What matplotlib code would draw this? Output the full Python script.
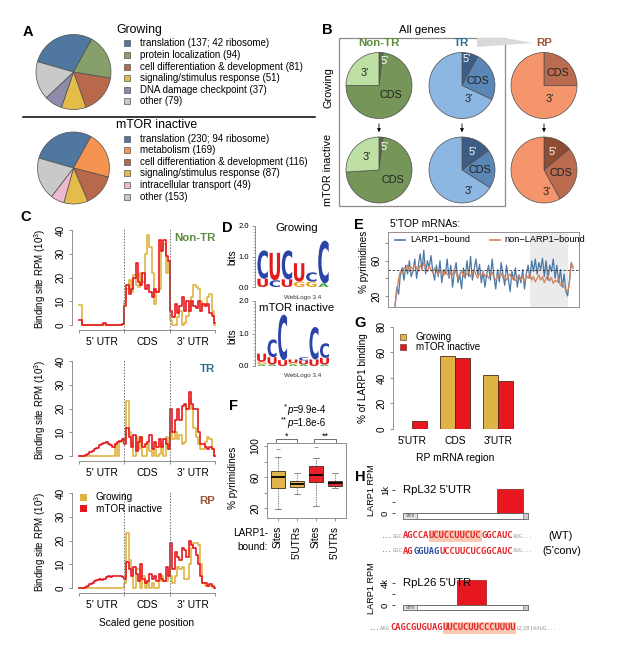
import numpy as np
import matplotlib
matplotlib.use('Agg')
import matplotlib.pyplot as plt
import matplotlib.transforms as mtransforms
from matplotlib.patches import Rectangle, Polygon, PathPatch
from matplotlib.textpath import TextPath
from matplotlib.font_manager import FontProperties
from matplotlib.ticker import MultipleLocator

W, H = 617, 655

# ---------------- data ----------------
# A: GO terms of LARP1 targets
grow_terms = ['translation', 'protein localization', 'cell differentiation & development',
              'signaling/stimulus response', 'DNA damage checkpoint', 'other']
grow_counts = [137, 94, 81, 51, 37, 79]
grow_ribosome = 42
mtor_terms = ['translation', 'metabolism', 'cell differentiation & development',
              'signaling/stimulus response', 'intracellular transport', 'other']
mtor_counts = [230, 169, 116, 87, 49, 153]
mtor_ribosome = 94

# B: share of binding sites per region (5', CDS, 3')
b_groups = ['Non-TR', 'TR', 'RP']
b_regions = ["5'", 'CDS', "3'"]
b_growing = [[2, 73, 25], [8, 24, 68], [0, 25, 75]]
b_mtor = [[2, 72, 26], [15, 19, 66], [14, 28, 58]]

# C: binding site RPM (10^3) along scaled gene position, 20 bins per region
c_regions = ["5' UTR", 'CDS', "3' UTR"]
nontr_grow = [8.4, 8.4, 0, 0, 0, 0, 0, 0, 0, 0, 0, 0, 0, 0, 0, 0, 0, 0, 0, 0.3,
              10, 15, 19, 14, 21, 17, 16, 22, 18, 30, 38, 33, 22, 9, 14, 15, 32, 34, 22, 27,
              2, 0, 0, 3.5, 6, 0, 1, 4, 8, 12, 17, 16, 15, 10, 8, 9, 12, 13, 6, 0]
nontr_mtor = [2, 2, 0, 0, 0, 0, 0, 0, 0, 0, 0, 1, 0, 0, 0, 0, 0, 0, 0, 0.5,
              8, 17, 13, 15, 20, 26, 18, 17, 22, 15, 17, 14, 12, 15, 14, 36, 31, 36, 29, 27,
              6, 3.5, 9, 5, 8, 12, 6, 10, 6, 10, 8, 7, 10, 6, 9, 8, 9, 5, 4, 1]
tr_grow = [0, 0, 0, 0, 0, 0, 0, 0, 0, 0, 0, 0, 0, 0, 0, 0, 5, 0, 6, 7,
           7, 23, 10, 5, 0, 8, 3, 8, 0, 0, 5, 2, 0, 3, 0, 1, 5, 0, 8, 3,
           10, 7, 10, 7, 9, 5, 6, 20, 24, 20, 12, 8, 5, 3, 3, 6, 8, 7, 3, 0]
tr_mtor = [0, 0, 0, 0.5, 1, 1.5, 2, 3, 3.5, 4.5, 5, 5.5, 6, 5, 4.5, 4, 5, 6, 6.5, 7,
           5, 12, 8, 4, 9, 2, 6, 8, 4, 5, 6, 9, 3, 6, 4, 7, 4, 7, 5, 3,
           20, 10, 15, 20, 15, 21, 22, 20, 27, 22, 20, 20, 10, 5, 5, 4, 3, 4, 3, 0]
rp_grow = [0, 0, 0, 0, 0, 0, 0, 0, 0, 0, 0, 0, 0, 0, 0, 0, 0, 0, 0, 0,
           2, 23, 12, 8, 0, 8, 8, 0, 5, 0, 3, 0, 2, 0, 0, 3, 5, 3, 3, 7,
           5, 2, 5, 9, 8, 9, 4, 4, 10, 17, 19, 19, 18, 10, 2, 1, 1, 1, 0.5, 0]
rp_mtor = [0, 0, 0, 0.5, 1, 1.5, 2, 3, 3.5, 4, 3.5, 4, 4.5, 5, 4.5, 5, 5, 5, 5, 4.5,
           4, 11, 8, 5, 9, 6, 3, 10, 4, 2, 3, 6, 4, 5, 3, 6, 4, 3, 9, 5,
           19, 8, 15, 13, 12, 17, 16, 13, 20, 18, 17, 14, 10, 5, 2, 2, 1, 1.5, 1, 0]

# D: sequence logos, stacks bottom -> top (letter, bits)
logo_grow = [[('U', 0.27), ('C', 0.93)],
             [('C', 0.22), ('U', 0.90)],
             [('U', 0.25), ('C', 0.95)],
             [('G', 0.18), ('U', 0.60)],
             [('G', 0.18), ('C', 0.30)],
             [('A', 0.12), ('C', 1.40)]]
logo_mtor = [[('A', 0.05), ('G', 0.08), ('U', 0.25)],
             [('A', 0.05), ('U', 0.22), ('C', 0.55)],
             [('U', 0.18), ('C', 1.40)],
             [('A', 0.05), ('G', 0.05), ('U', 0.10)],
             [('A', 0.05), ('U', 0.12), ('C', 0.10)],
             [('U', 0.20), ('C', 1.00)],
             [('A', 0.05), ('U', 0.20), ('C', 0.45)]]

# E: % pyrimidines along 5'TOP mRNAs
e_bound = [8, 30, 22, 45, 52, 38, 55, 45, 60, 42,
           48, 62, 40, 55, 68, 50, 72, 45, 60, 52,
           66, 48, 38, 55, 42, 60, 35, 50, 45, 62,
           40, 55, 30, 48, 58, 35, 45, 28, 52, 40,
           60, 42, 65, 38, 50, 62, 44, 56, 35, 48,
           30, 45, 55, 38, 62, 42, 28, 50, 36, 58,
           45, 32, 55, 40, 25, 48, 38, 52, 30, 44,
           35, 50, 28, 45, 55, 40, 60, 48, 62, 45,
           58, 50, 63, 42, 60, 38, 55, 48, 62, 40,
           55, 35, 50, 30, 45, 25, 20, 38, 58, 52]
e_unbound = [10, 25, 40, 48, 45, 52, 50, 55, 48, 53,
             50, 56, 52, 48, 55, 50, 58, 52, 48, 54,
             50, 46, 52, 48, 44, 50, 47, 43, 49, 45,
             42, 48, 44, 50, 46, 40, 45, 48, 42, 46,
             44, 48, 42, 46, 50, 44, 40, 46, 43, 47,
             42, 45, 40, 44, 47, 41, 38, 44, 42, 46,
             40, 43, 38, 42, 45, 39, 43, 37, 41, 44,
             38, 42, 36, 44, 40, 46, 38, 42, 36, 40,
             44, 38, 42, 35, 40, 44, 37, 41, 34, 38,
             36, 40, 32, 35, 30, 27, 25, 35, 58, 52]
e_shade = (75, 96)
e_ref = 50

# F: % pyrimidines, box statistics
f_labels = ['Sites', "5'UTRs", 'Sites', "5'UTRs"]
f_med = [60.4, 50.6, 62.6, 51.9]
f_q1 = [45.4, 46.7, 54.0, 48.4]
f_q3 = [68.1, 54.8, 74.2, 55.2]
f_lo = [18.7, 38.0, 22.6, 45.4]
f_hi = [85.4, 65.6, 84.0, 65.6]
f_out = [[95.7], [], [98.3], []]
f_pvals = [('*', '9.9e-4'), ('**', '1.8e-6')]

# G: % of LARP1 binding in RP mRNA regions
g_regions = ["5'UTR", 'CDS', "3'UTR"]
g_growing = [0, 57.6, 42.7]
g_mtor = [6.3, 55.5, 38.0]

# H: LARP1 RPM on 5'UTRs (position in % of UTR)
l32_start, l32_end, l32_rpm = 75, 96, 1050
l26_start, l26_end, l26_rpm = 43, 66, 4500

# ---------------- style ----------------
plt.rcParams.update({
    'font.family': 'Liberation Sans',
    'font.size': 7,
    'mathtext.fontset': 'custom',
    'mathtext.rm': 'Liberation Sans',
    'mathtext.it': 'Liberation Sans:italic',
    'axes.linewidth': 0.6,
    'axes.edgecolor': '#808080',
    'xtick.color': '#808080', 'ytick.color': '#808080',
    'xtick.labelcolor': 'black', 'ytick.labelcolor': 'black',
    'xtick.major.size': 2.5, 'ytick.major.size': 2.5,
    'xtick.major.width': 0.6, 'ytick.major.width': 0.6,
    'xtick.major.pad': 2, 'ytick.major.pad': 2,
})

YEL = '#dfb444'
RED = '#e8171f'
term_colors = {'translation': '#4f77a0', 'protein localization': '#87a06b',
               'cell differentiation & development': '#b9694b',
               'signaling/stimulus response': '#e4bc4a', 'DNA damage checkpoint': '#8e8aa9',
               'other': '#c9c9c9', 'metabolism': '#f59450', 'intracellular transport': '#eeb8d0'}
b_colors = [['#556b45', '#769659', '#bfe0a5'],
            ['#3d5d85', '#5b87b7', '#8cb7e3'],
            ['#8e4c33', '#bb6c50', '#f5956b']]
b_title_colors = ['#5e8c3a', '#2f6f8f', '#a0523c']

fig = plt.figure(figsize=(W / 100, H / 100), dpi=100)


def box(l, t, r, b):
    return [l / W, 1 - b / H, (r - l) / W, (b - t) / H]


def pie_at(cx, cy, r, vals, colors, start):
    m = 1.04
    ax = fig.add_axes(box(cx - r * m, cy - r * m, cx + r * m, cy + r * m))
    ax.pie(vals, colors=colors, startangle=start, counterclock=False,
           wedgeprops=dict(ec='#4d4d4d', lw=0.5))
    ax.set_xlim(-m, m)
    ax.set_ylim(-m, m)
    return ax


# ---------------- A ----------------
pie_at(73.5, 72, 37.5, grow_counts, [term_colors[t] for t in grow_terms], 164)
pie_at(73.5, 168, 36, mtor_counts, [term_colors[t] for t in mtor_terms], 164)

# ---------------- B ----------------
b_cx = [379, 462, 544]
for i, g in enumerate(b_groups):
    pie_at(b_cx[i], 85.5, 33, b_growing[i], b_colors[i], 90)
    pie_at(b_cx[i], 170, 33, b_mtor[i], b_colors[i], 90)

# ---------------- C ----------------
c_tops = [228, 359, 491]
c_sets = [('Non-TR', b_title_colors[0], nontr_grow, nontr_mtor),
          ('TR', b_title_colors[1], tr_grow, tr_mtor),
          ('RP', b_title_colors[2], rp_grow, rp_mtor)]
for top, (lab, col, gr, mt) in zip(c_tops, c_sets):
    ax = fig.add_axes(box(72, top, 217, top + 102))
    x = np.linspace(0, 3, len(gr))
    ax.plot(x, gr, color=YEL, lw=1.2, drawstyle='steps-mid')
    ax.plot(x, mt, color=RED, lw=1.2, drawstyle='steps-mid')
    ax.set_xlim(-0.155, 3.04)
    ax.set_ylim(-2.1, 40.9)
    for s in ('top', 'right'):
        ax.spines[s].set_visible(False)
    ax.spines['left'].set_bounds(0, 40)
    ax.spines['bottom'].set_bounds(0, 3)
    ax.set_yticks([0, 10, 20, 30, 40])
    ax.tick_params(axis='y', labelrotation=90, labelsize=7.2)
    for t in ax.get_yticklabels():
        t.set_va('center')
    ax.set_xticks([0, 1, 2, 3], [''] * 4)
    ax.set_xticks([0.5, 1.5, 2.5], c_regions, minor=True)
    ax.tick_params(axis='x', which='minor', length=0, pad=5, labelsize=7.4)
    for xv in (1, 2):
        ax.axvline(xv, color='#707070', lw=0.7, ls=(0, (1.5, 1.5)))
    ax.text(3.0, 36.5, lab, color=col, fontsize=8.2, fontweight='bold', ha='right', va='center')

# ---------------- D ----------------
LOGO_FP = FontProperties(family='DejaVu Sans', weight='bold')
letter_colors = {'C': '#2a44a8', 'U': '#e41a1c', 'G': '#f0a020', 'A': '#3aa040'}


def letter(ax, ch, x, y, w, h):
    tp = TextPath((0, 0), ch, size=1, prop=LOGO_FP)
    bb = tp.get_extents()
    tr = mtransforms.Affine2D().translate(-bb.x0, -bb.y0).scale(w / bb.width, h / bb.height).translate(x, y)
    ax.add_patch(PathPatch(tr.transform_path(tp), fc=letter_colors[ch], ec='none', lw=0))


for stacks, (top, bot) in ((logo_grow, (226, 287)), (logo_mtor, (301, 366))):
    ax = fig.add_axes(box(255, top, 331, bot))
    n = len(stacks)
    for i, st in enumerate(stacks):
        y0 = 0
        for ch, h in st:
            letter(ax, ch, i + 0.55, y0, 0.86, h)
            y0 += h
    ax.set_xlim(0.35, n + 0.6)
    ax.set_ylim(0, 2)
    for s in ('top', 'right', 'bottom'):
        ax.spines[s].set_visible(False)
    ax.set_xticks([])
    ax.set_yticks([0, 1, 2], ['0.0', '1.0', '2.0'])
    ax.yaxis.set_minor_locator(MultipleLocator(0.1))
    ax.tick_params(axis='y', which='minor', length=1.2, width=0.4)
    ax.tick_params(axis='y', labelsize=5.5, length=2.5)

# ---------------- E ----------------
ax = fig.add_axes(box(388, 232, 579, 307))
idx = np.arange(len(e_bound))
ax.axvspan(e_shade[0], e_shade[1], color='#ebebeb', lw=0)
ax.plot(idx, e_bound, color='#4a78a6', lw=0.9)
ax.plot(idx, e_unbound, color='#cf8462', lw=0.9)
ax.axhline(e_ref, color='#333333', lw=0.6, ls=(0, (3, 2)))
ax.set_xlim(-3.9, 102.3)
ax.set_ylim(7.5, 92.7)
ax.set_xticks([])
ax.set_yticks([20, 40, 60, 80], ['20', '', '60', ''])
ax.tick_params(axis='y', labelrotation=90, labelsize=7.2)
for t in ax.get_yticklabels():
    t.set_va('center')

# ---------------- F ----------------
ax = fig.add_axes(box(267, 443, 346, 518))
stats = [dict(med=m, q1=a, q3=b, whislo=lo, whishi=hi, fliers=o)
         for m, a, b, lo, hi, o in zip(f_med, f_q1, f_q3, f_lo, f_hi, f_out)]
bp = ax.bxp(stats, positions=[1, 2, 3, 4], widths=0.75, patch_artist=True, capwidths=0.35,
            boxprops=dict(ec='#3a2a1a', lw=0.6),
            medianprops=dict(color='black', lw=1.3),
            whiskerprops=dict(color='#555555', lw=0.5, ls=(0, (2, 1.5))),
            capprops=dict(color='#555555', lw=0.5),
            flierprops=dict(marker='_', markersize=3, markeredgecolor='#777777', mew=0.5))
for patch, c in zip(bp['boxes'], ['#e0b44f', '#e0b44f', '#e8212a', '#e02a30']):
    patch.set_facecolor(c)
ax.set_xlim(0.42, 4.58)
ax.set_ylim(7.1, 103.9)
ax.set_xticks([1, 2, 3, 4], f_labels, rotation=90, va='top')
ax.tick_params(axis='x', labelsize=7.2, pad=3)
ax.set_yticks([20, 40, 60, 80, 100], ['20', '', '60', '', '100'])
ax.tick_params(axis='y', labelrotation=90, labelsize=7.2)
for t in ax.get_yticklabels():
    t.set_va('center')

# ---------------- G ----------------
ax = fig.add_axes(box(393, 324, 520, 429))
gx = np.arange(len(g_regions))
bw = 0.349
ax.bar(gx - bw / 2, g_growing, width=bw, color=YEL, ec='#4d2a1a', lw=0.6)
ax.bar(gx + bw / 2, g_mtor, width=bw, color=RED, ec='#4d2a1a', lw=0.6)
ax.set_xlim(-0.44, 2.51)
ax.set_ylim(0, 82.3)
for s in ('top', 'right', 'bottom'):
    ax.spines[s].set_visible(False)
ax.spines['left'].set_bounds(0, 80)
ax.set_xticks(gx, g_regions)
ax.tick_params(axis='x', length=0, pad=5, labelsize=7.4)
ax.set_yticks([0, 20, 40, 60, 80])
ax.tick_params(axis='y', labelrotation=90, labelsize=7.2)
for t in ax.get_yticklabels():
    t.set_va('center')

# ---------------- H ----------------
for (top, bot, s0, s1, rpm, ylim, ticks, tlabs, barh, title) in (
        (484, 520, l32_start, l32_end, l32_rpm, (-304, 1261), [0, 500, 1000], ['0', '', '1k'], 260, "RpL32 5'UTR"),
        (576, 612, l26_start, l26_end, l26_rpm, (-1273, 5273), [0, 2000, 4000], ['0', '', '4k'], 909, "RpL26 5'UTR")):
    ax = fig.add_axes(box(395, top, 530, bot))
    ax.bar(s0, rpm, width=s1 - s0, align='edge', color=RED, ec='#8b1a1a', lw=0.5)
    ax.add_patch(Rectangle((0, -barh), 100, barh, fc='white', ec='#555555', lw=0.6))
    ax.add_patch(Rectangle((0, -barh), 11, barh, fc='#e4e4e4', ec='#555555', lw=0.4))
    ax.add_patch(Rectangle((96, -barh), 4, barh, fc='#cccccc', ec='#555555', lw=0.4))
    ax.text(5.5, -barh / 2, '96nt', fontsize=3.3, color='#555555', ha='center', va='center')
    ax.set_xlim(-6.4, 101.6)
    ax.set_ylim(*ylim)
    for s in ax.spines.values():
        s.set_visible(False)
    ax.set_xticks([])
    ax.set_yticks(ticks, tlabs)
    ax.tick_params(axis='y', labelrotation=90, labelsize=6.8, color='#333333', pad=1.2)
    for t in ax.get_yticklabels():
        t.set_va('center')
    ax.text(0.1, ticks[2], title, fontsize=8.2, ha='left', va='center')

# ---------------- overlay: texts, legends, decorations ----------------
ov = fig.add_axes([0, 0, 1, 1])
ov.set_xlim(0, W)
ov.set_ylim(H, 0)
ov.axis('off')


def T(x, y, s, **kw):
    kw.setdefault('ha', 'center')
    kw.setdefault('va', 'center')
    ov.text(x, y, s, **kw)


for lab, (x, y) in zip('ABCDEFGH', [(28, 32), (327, 30), (26, 217), (227, 228),
                                     (359, 225), (233, 406), (360, 323), (360, 477)]):
    T(x, y, lab, fontsize=10.5, fontweight='bold')

# A legends
T(116, 30, 'Growing', fontsize=8.8, ha='left')
T(116, 125, 'mTOR inactive', fontsize=8.8, ha='left')
ov.plot([23, 315], [116.7, 116.7], color='black', lw=1.1)
for terms, counts, ribo, y0 in ((grow_terms, grow_counts, grow_ribosome, 43.3),
                                 (mtor_terms, mtor_counts, mtor_ribosome, 138.5)):
    for k, (t, c) in enumerate(zip(terms, counts)):
        y = y0 + k * 11.6
        ov.add_patch(Rectangle((124, y - 3), 6, 6, fc=term_colors[t], ec='#555555', lw=0.5))
        lab = f'{t} ({c}; {ribo} ribosome)' if k == 0 else f'{t} ({c})'
        T(140, y, lab, fontsize=7, ha='left')

# B frame and labels
T(422, 30, 'All genes', fontsize=8.2)
ov.add_patch(Rectangle((339, 38), 166, 168, fc='none', ec='#8c8c8c', lw=0.9))
ov.add_patch(Polygon([(477, 38), (505, 38), (532, 43), (477, 47)], closed=True,
                     fc='#d9d9d9', ec='none'))
for cx, g, col in zip(b_cx, b_groups, b_title_colors):
    T(cx, 43, g, fontsize=8.2, fontweight='bold', color=col)
    ov.annotate('', xy=(cx, 135), xytext=(cx, 121),
                arrowprops=dict(arrowstyle='-|>', color='black', lw=0.6, mutation_scale=5))
T(328, 88, 'Growing', fontsize=7.8, rotation=90)
T(328, 170, 'mTOR inactive', fontsize=7.8, rotation=90)
b_lab_grow = [[(6, -24), (12, 10), (-14, -12)],
              [(5, -27), (16, -4), (7, 13)],
              [None, (14, -13), (6, 13)]]
b_lab_mtor = [[(6, -23), (14, 10), (-12, -13)],
              [(11, -18), (18, 0), (7, 21)],
              [(9, -18), (17, 3), (3, 22)]]
for i, cx in enumerate(b_cx):
    for cy, offs in ((85.5, b_lab_grow[i]), (170, b_lab_mtor[i])):
        for r, off in zip(b_regions, offs):
            if off is None:
                continue
            col = 'white' if r == "5'" else '#222222'
            T(cx + off[0], cy + off[1], r, fontsize=7.8, color=col)

# C labels and legend
for top in c_tops:
    T(40, top + 51, 'Binding site RPM (10$^3$)', fontsize=7, rotation=90)
T(147, 623, 'Scaled gene position', fontsize=7.4)
for k, (lab, col) in enumerate((('Growing', YEL), ('mTOR inactive', RED))):
    y = 497 + k * 11.5
    ov.add_patch(Rectangle((80, y - 3.5), 7, 7, fc=col, ec='none'))
    T(96, y, lab, fontsize=7.2, ha='left')

# D labels
T(232, 257, 'bits', fontsize=7.2, rotation=90)
T(232, 336, 'bits', fontsize=7.2, rotation=90)
T(297, 228, 'Growing', fontsize=8.2)
T(297, 308, 'mTOR inactive', fontsize=8.2)
T(303, 297, 'WebLogo 3.4', fontsize=4.5, color='#333333')
T(303, 376, 'WebLogo 3.4', fontsize=4.5, color='#333333')

# E labels
T(390, 224, "5'TOP mRNAs:", fontsize=7.4, ha='left')
T(364, 262, '% pyrimidines', fontsize=7.2, rotation=90)
ov.plot([395, 405], [240, 240], color='#4a78a6', lw=1.2)
T(410, 240, 'LARP1\u2212bound', fontsize=6.6, ha='left')
ov.plot([490, 500], [240, 240], color='#cf8462', lw=1.2)
T(504, 240, 'non\u2212LARP1\u2212bound', fontsize=6.6, ha='left')

# F labels
for (stars, pv), y in zip(f_pvals, (410, 423)):
    x0 = 287
    T(x0, y - 3, stars, fontsize=5.5, ha='right')
    T(x0, y, 'p', fontsize=7, fontstyle='italic', ha='left')
    T(x0 + 5.2, y, '=' + pv, fontsize=7, ha='left')
for x0, x1, s in ((276, 297, '*'), (314, 336, '**')):
    ov.plot([x0, x0, x1, x1], [442, 439, 439, 442], color='#555555', lw=0.6)
    T((x0 + x1) / 2, 436, s, fontsize=6.5)
T(233, 478, '% pyrimidines', fontsize=7.2, rotation=90)
T(268, 533, 'LARP1-', fontsize=7.2, ha='right')
T(268, 547, 'bound:', fontsize=7.2, ha='right')

# G labels
T(363, 378, '% of LARP1 binding', fontsize=7.2, rotation=90)
T(455, 458, 'RP mRNA region', fontsize=7.4)
for k, (lab, col) in enumerate((('Growing', YEL), ('mTOR inactive', RED))):
    y = 337 + k * 10
    ov.add_patch(Rectangle((400, y - 3), 6, 6, fc=col, ec='#4d2a1a', lw=0.4))
    T(416, y, lab, fontsize=7, ha='left')

# H labels and sequences
T(372, 490, 'LARP1 RPM', fontsize=6.6, rotation=90)
T(372, 588, 'LARP1 RPM', fontsize=6.6, rotation=90)
CW, SW = 5.27, 3.43
mono = dict(family='DejaVu Sans Mono', ha='left', va='center')


def seq_line(x, y, parts):
    for s, kind in parts:
        if kind in ('gray', 'dots'):
            col = '#999999' if kind == 'gray' else '#222222'
            ov.text(x, y, s, fontsize=4.1, color=col, **mono)
            x += SW * len(s)
        else:
            col = '#2a4fa0' if kind == 'blue' else '#e0262b'
            if kind == 'hl':
                ov.add_patch(Rectangle((x, y - 6), CW * len(s), 12, fc='#f8c8b2', ec='none'))
            ov.text(x, y, s, fontsize=6.3, color=col, fontweight='bold', **mono)
            x += CW * len(s)
    return x


seq_line(382, 536, [('...', 'dots'), ('GGC', 'gray'), ('AGCCA', 'red'),
                    ('UCUCCUUCUC', 'hl'), ('GGCAUC', 'red'), ('AUG...', 'gray')])
T(548, 536, '(WT)', fontsize=7.8, ha='left')
seq_line(382, 551, [('...', 'dots'), ('GGC', 'gray'), ('AG', 'red'), ('GGUAG', 'blue'),
                    ('UCCUUCUCGGCAUC', 'red'), ('AUG...', 'gray')])
T(542, 551, "(5'conv)", fontsize=7.8, ha='left')
seq_line(369.4, 628, [('...', 'dots'), ('AAG', 'gray'), ('CAGCGUGUAG', 'red'),
                      ('UUCUCUUCCCUUUU', 'hl'), ('G[28]AAUG...', 'gray')])

fig.savefig('out.png', dpi=100)
